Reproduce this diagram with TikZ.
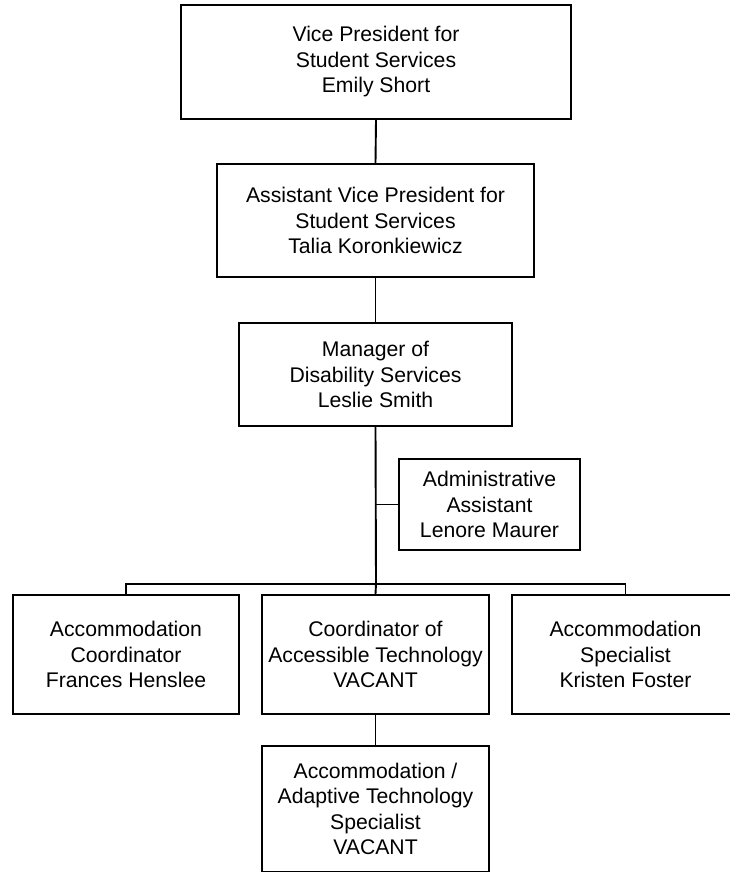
\documentclass[tikz,border=0pt]{standalone}
\usepackage{fontspec}
\setmainfont{Liberation Sans}
\usepackage{tikz}
\usetikzlibrary{positioning}

\begin{document}
\begin{tikzpicture}[x=1pt, y=-1pt,
  orgbox/.style={draw, line width=1.9pt, align=center, inner sep=0pt,
    font=\fontsize{21.2}{25.5}\selectfont},
  orgline/.style={line width=1.9pt}]
  \useasboundingbox (0,0) rectangle (730,872);

  % top of the chain
  \node[orgbox, minimum width=390, minimum height=114] (vp) at (376, 62)
    {Vice President for\\Student Services\\Emily Short};
  \node[orgbox, minimum width=317, minimum height=113] (avp) at (375.5, 220.5)
    {Assistant Vice President for\\Student Services\\Talia Koronkiewicz};
  \node[orgbox, minimum width=273, minimum height=103] (mgr) at (375.5, 374.5)
    {Manager of\\Disability Services\\Leslie Smith};

  % assistant to the manager
  \node[orgbox, minimum width=181, minimum height=91] (admin) at (489.5, 504.5)
    {Administrative\\Assistant\\Lenore Maurer};

  % staff row
  \node[orgbox, minimum width=226, minimum height=119] (acc) at (126, 654.5)
    {Accommodation\\Coordinator\\Frances Henslee};
  \node[orgbox, minimum width=227, minimum height=119] (cat) at (375.5, 654.5)
    {Coordinator of\\Accessible Technology\\VACANT};
  \node[orgbox, minimum width=227, minimum height=119] (spec) at (625.5, 654.5)
    {Accommodation\\Specialist\\Kristen Foster};
  \node[orgbox, minimum width=227, minimum height=126] (adapt) at (375.5, 809)
    {Accommodation /\\Adaptive Technology\\Specialist\\VACANT};

  % connectors
  \coordinate (bus) at (376, 584);
  \draw[orgline] (vp.south) -- (avp.north);
  \draw[orgline] (avp.south) -- (mgr.north);
  \draw[orgline] (mgr.south) -- (bus);
  \draw[orgline] (admin.west) -- (mgr.south |- admin.west);
  \draw[orgline] (acc.north) |- (bus) -| (spec.north);
  \draw[orgline] (bus) -- (cat.north);
  \draw[orgline] (cat.south) -- (adapt.north);
\end{tikzpicture}
\end{document}
